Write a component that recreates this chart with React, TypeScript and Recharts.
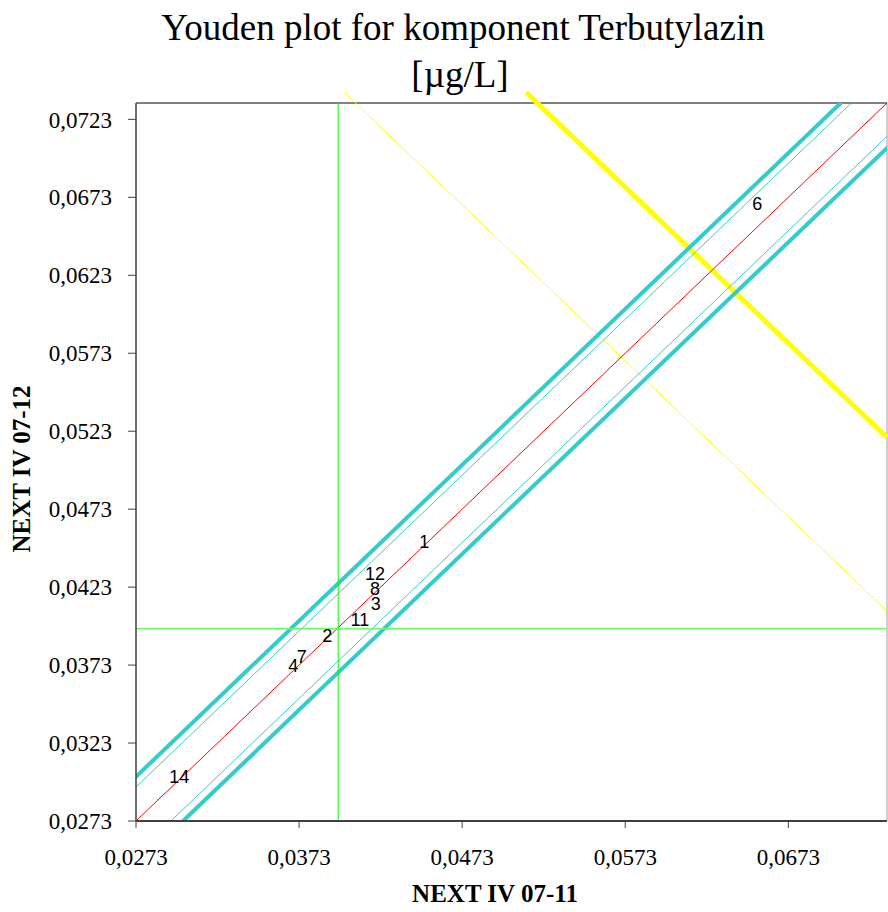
import React from 'react';
import { ComposedChart, XAxis, YAxis, Scatter, ReferenceLine } from 'recharts';

// lab numbers and their results (sample 07-11 on x, 07-12 on y)
const labs = ['1', '2', '3', '4', '6', '7', '8', '11', '12', '14'];
const xValues = [0.04498, 0.03903, 0.0420, 0.03694, 0.06539, 0.03746, 0.04195, 0.04103, 0.04195, 0.02995];
const yValues = [0.04517, 0.03914, 0.04124, 0.03721, 0.06686, 0.03785, 0.0422, 0.04021, 0.04314, 0.03015];

const xTicks = [0.0273, 0.0373, 0.0473, 0.0573, 0.0673];
const yTicks = [0.0273, 0.0323, 0.0373, 0.0423, 0.0473, 0.0523, 0.0573, 0.0623, 0.0673, 0.0723];
const axisMin = 0.0273;
const axisMax = 0.07335;

// medians and limit lines
const medianX = 0.0397;
const medianY = 0.03963;
const innerOffsets = [0.00218, -0.00214];
const outerOffsets = [0.00284, -0.00288];
const yellowThinSum = 0.11411;
const yellowThickSum = 0.12525;
const yellowTop = 0.07403;

const points = labs.map((lab, i) => ({ lab, x: xValues[i], y: yValues[i] }));

const fmt = (v: number) => v.toFixed(4).replace('.', ',');

const diag = (off: number): any => [
  { x: axisMin - 0.01, y: axisMin - 0.01 + off },
  { x: axisMax + 0.01, y: axisMax + 0.01 + off },
];

const anti = (sum: number): any => [
  { x: sum - yellowTop, y: yellowTop },
  { x: axisMax, y: sum - axisMax },
];

const LabelShape = (props: any) => {
  const { cx, cy, payload } = props;
  return (
    <text
      x={cx}
      y={cy}
      textAnchor="middle"
      dominantBaseline="central"
      fontFamily="Liberation Sans, Arial, sans-serif"
      fontSize={18}
      fill="#000"
    >
      {payload.lab}
    </text>
  );
};

export default function App() {
  const serif = 'Liberation Serif, Times New Roman, serif';
  return (
    <div style={{ position: 'absolute', left: 0, top: 0, width: 888, height: 912, background: '#fff', fontFamily: serif }}>
      <div style={{ position: 'absolute', left: 0, width: 926, top: 6, textAlign: 'center', fontSize: 37, lineHeight: '44px' }}>
        Youden plot for komponent Terbutylazin
      </div>
      <div style={{ position: 'absolute', left: 0, width: 920, top: 53, textAlign: 'center', fontSize: 37, lineHeight: '44px' }}>
        [µg/L]
      </div>
      <div style={{ position: 'absolute', left: 0, width: 990, top: 879, textAlign: 'center', fontSize: 25, fontWeight: 'bold', lineHeight: '30px' }}>
        NEXT IV 07-11
      </div>
      <div
        style={{
          position: 'absolute', left: 22, top: 469, width: 300, marginLeft: -150, marginTop: -15,
          textAlign: 'center', fontSize: 25, fontWeight: 'bold', lineHeight: '30px',
          transform: 'rotate(-90deg)',
        }}
      >
        NEXT IV 07-12
      </div>
      <ComposedChart width={888} height={912} margin={{ top: 103, right: 1, bottom: 0, left: 0 }}>
        <XAxis
          type="number"
          dataKey="x"
          domain={[axisMin, axisMax]}
          ticks={xTicks}
          allowDataOverflow
          height={91}
          tickFormatter={fmt}
          tickSize={7}
          tickMargin={21}
          axisLine={{ stroke: '#404040', strokeWidth: 2 }}
          tickLine={{ stroke: '#404040' }}
          tick={{ fill: '#000', fontSize: 23, fontFamily: serif }}
        />
        <YAxis
          type="number"
          dataKey="y"
          domain={[axisMin, axisMax]}
          ticks={yTicks}
          allowDataOverflow
          width={136}
          tickFormatter={fmt}
          tickSize={8}
          tickMargin={16}
          axisLine={{ stroke: '#404040', strokeWidth: 1.5 }}
          tickLine={{ stroke: '#404040' }}
          tick={{ fill: '#000', fontSize: 23, fontFamily: serif }}
        />
        <ReferenceLine y={axisMax} stroke="#808080" strokeWidth={2} ifOverflow="visible" />
        <ReferenceLine x={axisMax} stroke="#a0a0a0" strokeWidth={1} ifOverflow="visible" />

        <ReferenceLine segment={anti(yellowThinSum)} stroke="#ffff00" strokeWidth={1} ifOverflow="visible" />
        <ReferenceLine segment={anti(yellowThickSum)} stroke="#ffff00" strokeWidth={5} ifOverflow="visible" />

        {outerOffsets.map((o) => (
          <ReferenceLine key={'o' + o} segment={diag(o)} stroke="#33cccc" strokeWidth={4} ifOverflow="hidden" />
        ))}
        {innerOffsets.map((o) => (
          <ReferenceLine key={'i' + o} segment={diag(o)} stroke="#33cccc" strokeWidth={1} ifOverflow="hidden" />
        ))}
        <ReferenceLine segment={diag(0)} stroke="#ff0000" strokeWidth={1} ifOverflow="hidden" />

        <ReferenceLine x={medianX} stroke="#00ff00" strokeWidth={1} />
        <ReferenceLine y={medianY} stroke="#66ff66" strokeWidth={1.5} />

        <Scatter data={points} dataKey="y" shape={LabelShape} isAnimationActive={false} />
      </ComposedChart>
    </div>
  );
}
